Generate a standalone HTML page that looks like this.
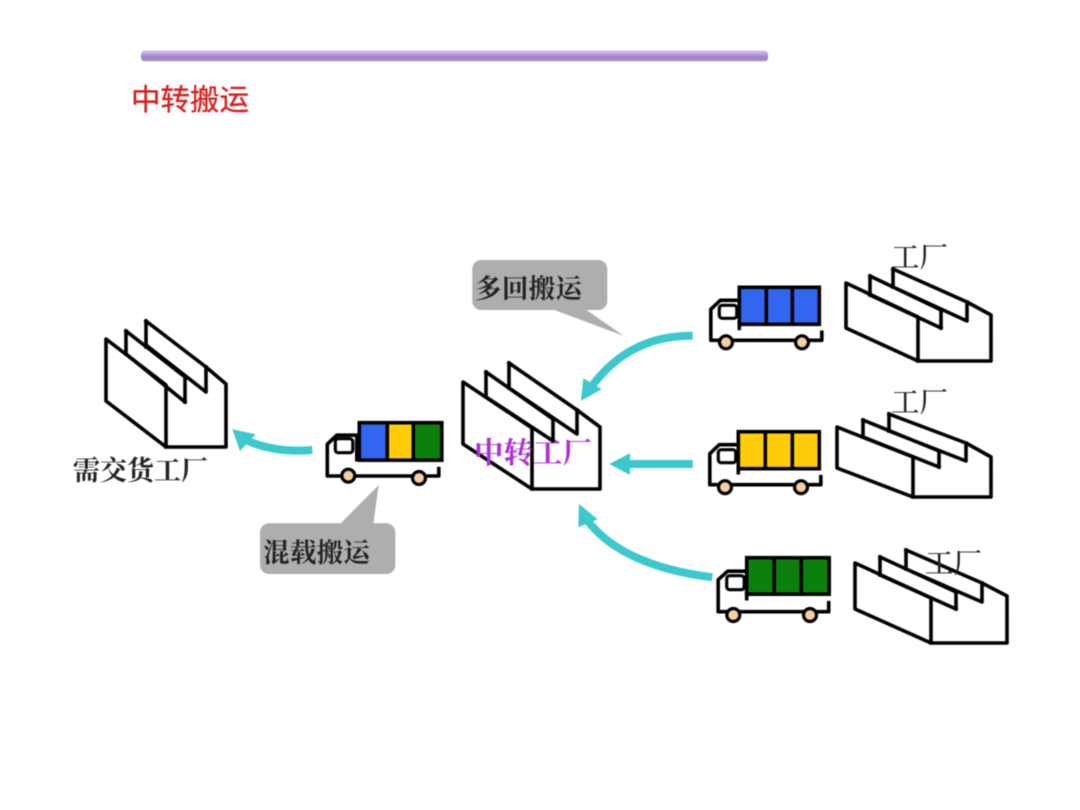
<!DOCTYPE html>
<html lang="zh">
<head>
<meta charset="utf-8">
<title>中转搬运</title>
<style>
html,body{margin:0;padding:0;background:#fff;width:1080px;height:810px;overflow:hidden}
svg{display:block;filter:blur(.45px)}
.l{fill:none;stroke:#000;stroke-width:3.6;stroke-linejoin:round;stroke-linecap:square}
.b{stroke:#000;stroke-width:3.6}
.w{fill:#fff;stroke:#000;stroke-width:3.2}
.o{fill:#f4cfa0;stroke:#000;stroke-width:3.2}
.a{fill:none;stroke:#3cc8cc;stroke-width:8}
.h{fill:#3cc8cc}
.c{fill:#aeaeae}
.s{font-family:"Liberation Serif","Noto Serif CJK SC",serif}
</style>
</head>
<body>
<svg width="1080" height="810" viewBox="0 0 1080 810" xmlns="http://www.w3.org/2000/svg">
<defs>
<linearGradient id="bar" x1="0" y1="0" x2="0" y2="1">
<stop offset="0" stop-color="#e0c0f6"/><stop offset=".3" stop-color="#c0a0e0"/><stop offset=".55" stop-color="#9c8cba"/><stop offset=".85" stop-color="#a484dc"/><stop offset="1" stop-color="#c8b8e0"/>
</linearGradient>
</defs>
<rect width="1080" height="810" fill="#fff"/>
<rect x="141" y="50.500" width="627" height="11" rx="3.500" fill="url(#bar)"/>
<text x="131" y="110" font-size="29.500" fill="#d81f1f" stroke="#d81f1f" stroke-width=".3" font-family="'Liberation Sans','Noto Sans CJK SC',sans-serif" textLength="118">中转搬运</text>

<!-- left factory -->
<path class="l" d="M146 321L206 367L226 384V447H166M126 331L185 377V402M146 321V347M206 367V392L146 345M126 331V354M185 402L126 354"/>
<path class="l" d="M106 339L166 385V447L106 401Z"/>
<!-- center factory -->
<path class="l" d="M509 363L577 410L600 427V489H532M486 372L553 419V441M509 363V388M577 410V434L509 388M486 372V397M553 441L486 397"/>
<path class="l" d="M463 382L532 428V489L463 444Z"/>
<!-- factory 1 -->
<path class="l" d="M893 269L967 302L991 315V361H918M870 276L941 310V328M893 269V287M967 302V321L893 287M870 276V295M941 328L870 295"/>
<path class="l" d="M846 283L918 317V361L846 328Z"/>
<!-- factory 2 -->
<path class="l" d="M889 414L966 443L991 457V497H913M863 420L939 451V467M889 414V431M966 443V461L889 431M863 420V437M939 467L863 437"/>
<path class="l" d="M837 427L913 457V497L837 468Z"/>
<!-- factory 3 -->
<path class="l" d="M906 550L982 583L1007 596V643H931M880 557L956 592V609M906 550V569M982 583V602L906 569M880 557V575M956 609L880 575"/>
<path class="l" d="M855 563L931 598V643L855 609Z"/>

<!-- trucks -->
<g transform="translate(739.3,287.3)">
<rect width="80" height="37" fill="#3366f0" class="b"/>
<path d="M27 0V37M53 0V37" class="b"/>
<path class="l" d="M0 37V41M0 13H-19L-28.500 22V53H82.500V45"/>
<rect x="-20" y="18" width="17.500" height="13" rx="3" class="w"/>
<circle cx="-13.300" cy="55" r="6.500" class="o"/>
<circle cx="62.700" cy="55" r="6.500" class="o"/>
</g>
<g transform="translate(738.3,431.7)">
<rect width="81" height="37" fill="#ffcc0a" class="b"/>
<path d="M27 0V37M54 0V37" class="b"/>
<path class="l" d="M0 37V41M0 13H-19L-28.500 22V53H82.500V45"/>
<rect x="-20" y="18" width="17.500" height="13" rx="3" class="w"/>
<circle cx="-13.300" cy="55.500" r="6.500" class="o"/>
<circle cx="62.700" cy="55.500" r="6.500" class="o"/>
</g>
<g transform="translate(746.7,557.7)">
<rect width="82.500" height="36.500" fill="#0c800c" class="b"/>
<path d="M27.500 0V36.500M54.500 0V36.500" class="b"/>
<path class="l" d="M0 36V41M0 13.500H-19L-28.500 22V54H82V45"/>
<rect x="-20" y="18" width="17.500" height="14" rx="3" class="w"/>
<circle cx="-13.400" cy="57.300" r="6.500" class="o"/>
<circle cx="63.300" cy="57.300" r="6.500" class="o"/>
</g>
<g transform="translate(359.3,422.7)">
<rect x="0" y="0" width="28" height="37.500" fill="#3366f0"/>
<rect x="28" y="0" width="26" height="37.500" fill="#ffcc0a"/>
<rect x="54" y="0" width="28.500" height="37.500" fill="#0c800c"/>
<rect width="82.500" height="37.500" fill="none" class="b"/>
<path d="M28 0V37.500M54 0V37.500" class="b"/>
<path class="l" d="M-2.500 37V25V12.500H-22.500L-32 21.500V53.300H79.500V46"/>
<rect x="-24" y="16" width="17.500" height="14" rx="3" class="w"/>
<circle cx="-11" cy="53" r="6.500" class="o"/>
<circle cx="59.700" cy="55.300" r="6.500" class="o"/>
</g>

<!-- arrows -->
<path class="a" d="M312.300 450Q276 453 248 441"/>
<polygon class="h" points="232.300,429.300 255.700,434.300 240,451"/>
<path class="a" d="M692.700 335.700Q630 335 592 386"/>
<polygon class="h" points="581,400.700 583.300,378.300 601.700,389.300"/>
<path class="a" d="M692.700 464H625"/>
<polygon class="h" points="609.300,464 630,453.300 630,475"/>
<path class="a" d="M712.300 577.300Q622 566 587 520" stroke-width="7"/>
<polygon class="h" points="579,504 578.300,527.300 597.700,519.300"/>

<!-- callouts -->
<rect class="c" x="472.300" y="260" width="135" height="50" rx="9"/>
<polygon class="c" points="551.700,309 624,336 585,309"/>
<rect class="c" x="260" y="523.300" width="135.300" height="50.700" rx="9"/>
<polygon class="c" points="340,524 378.700,485 373.300,524"/>

<!-- labels -->
<text class="s" x="475" y="298" font-size="26.500" font-weight="700" fill="#222" textLength="107">多回搬运</text>
<text class="s" x="263" y="562" font-size="26.500" font-weight="700" fill="#222" textLength="107">混载搬运</text>
<text class="s" x="73" y="480" font-size="27" font-weight="700" fill="#222" textLength="135">需交货工厂</text>
<text class="s" x="474" y="463" font-size="29.500" font-weight="700" fill="#b030d8" textLength="118">中转工厂</text>
<text class="s" x="891" y="267" font-size="28.500" font-weight="500" fill="#222" textLength="57">工厂</text>
<text class="s" x="891" y="412" font-size="28.500" font-weight="500" fill="#222" textLength="57">工厂</text>
<text class="s" x="925" y="573" font-size="28.500" font-weight="500" fill="#222" textLength="57">工厂</text>
</svg>
</body>
</html>
